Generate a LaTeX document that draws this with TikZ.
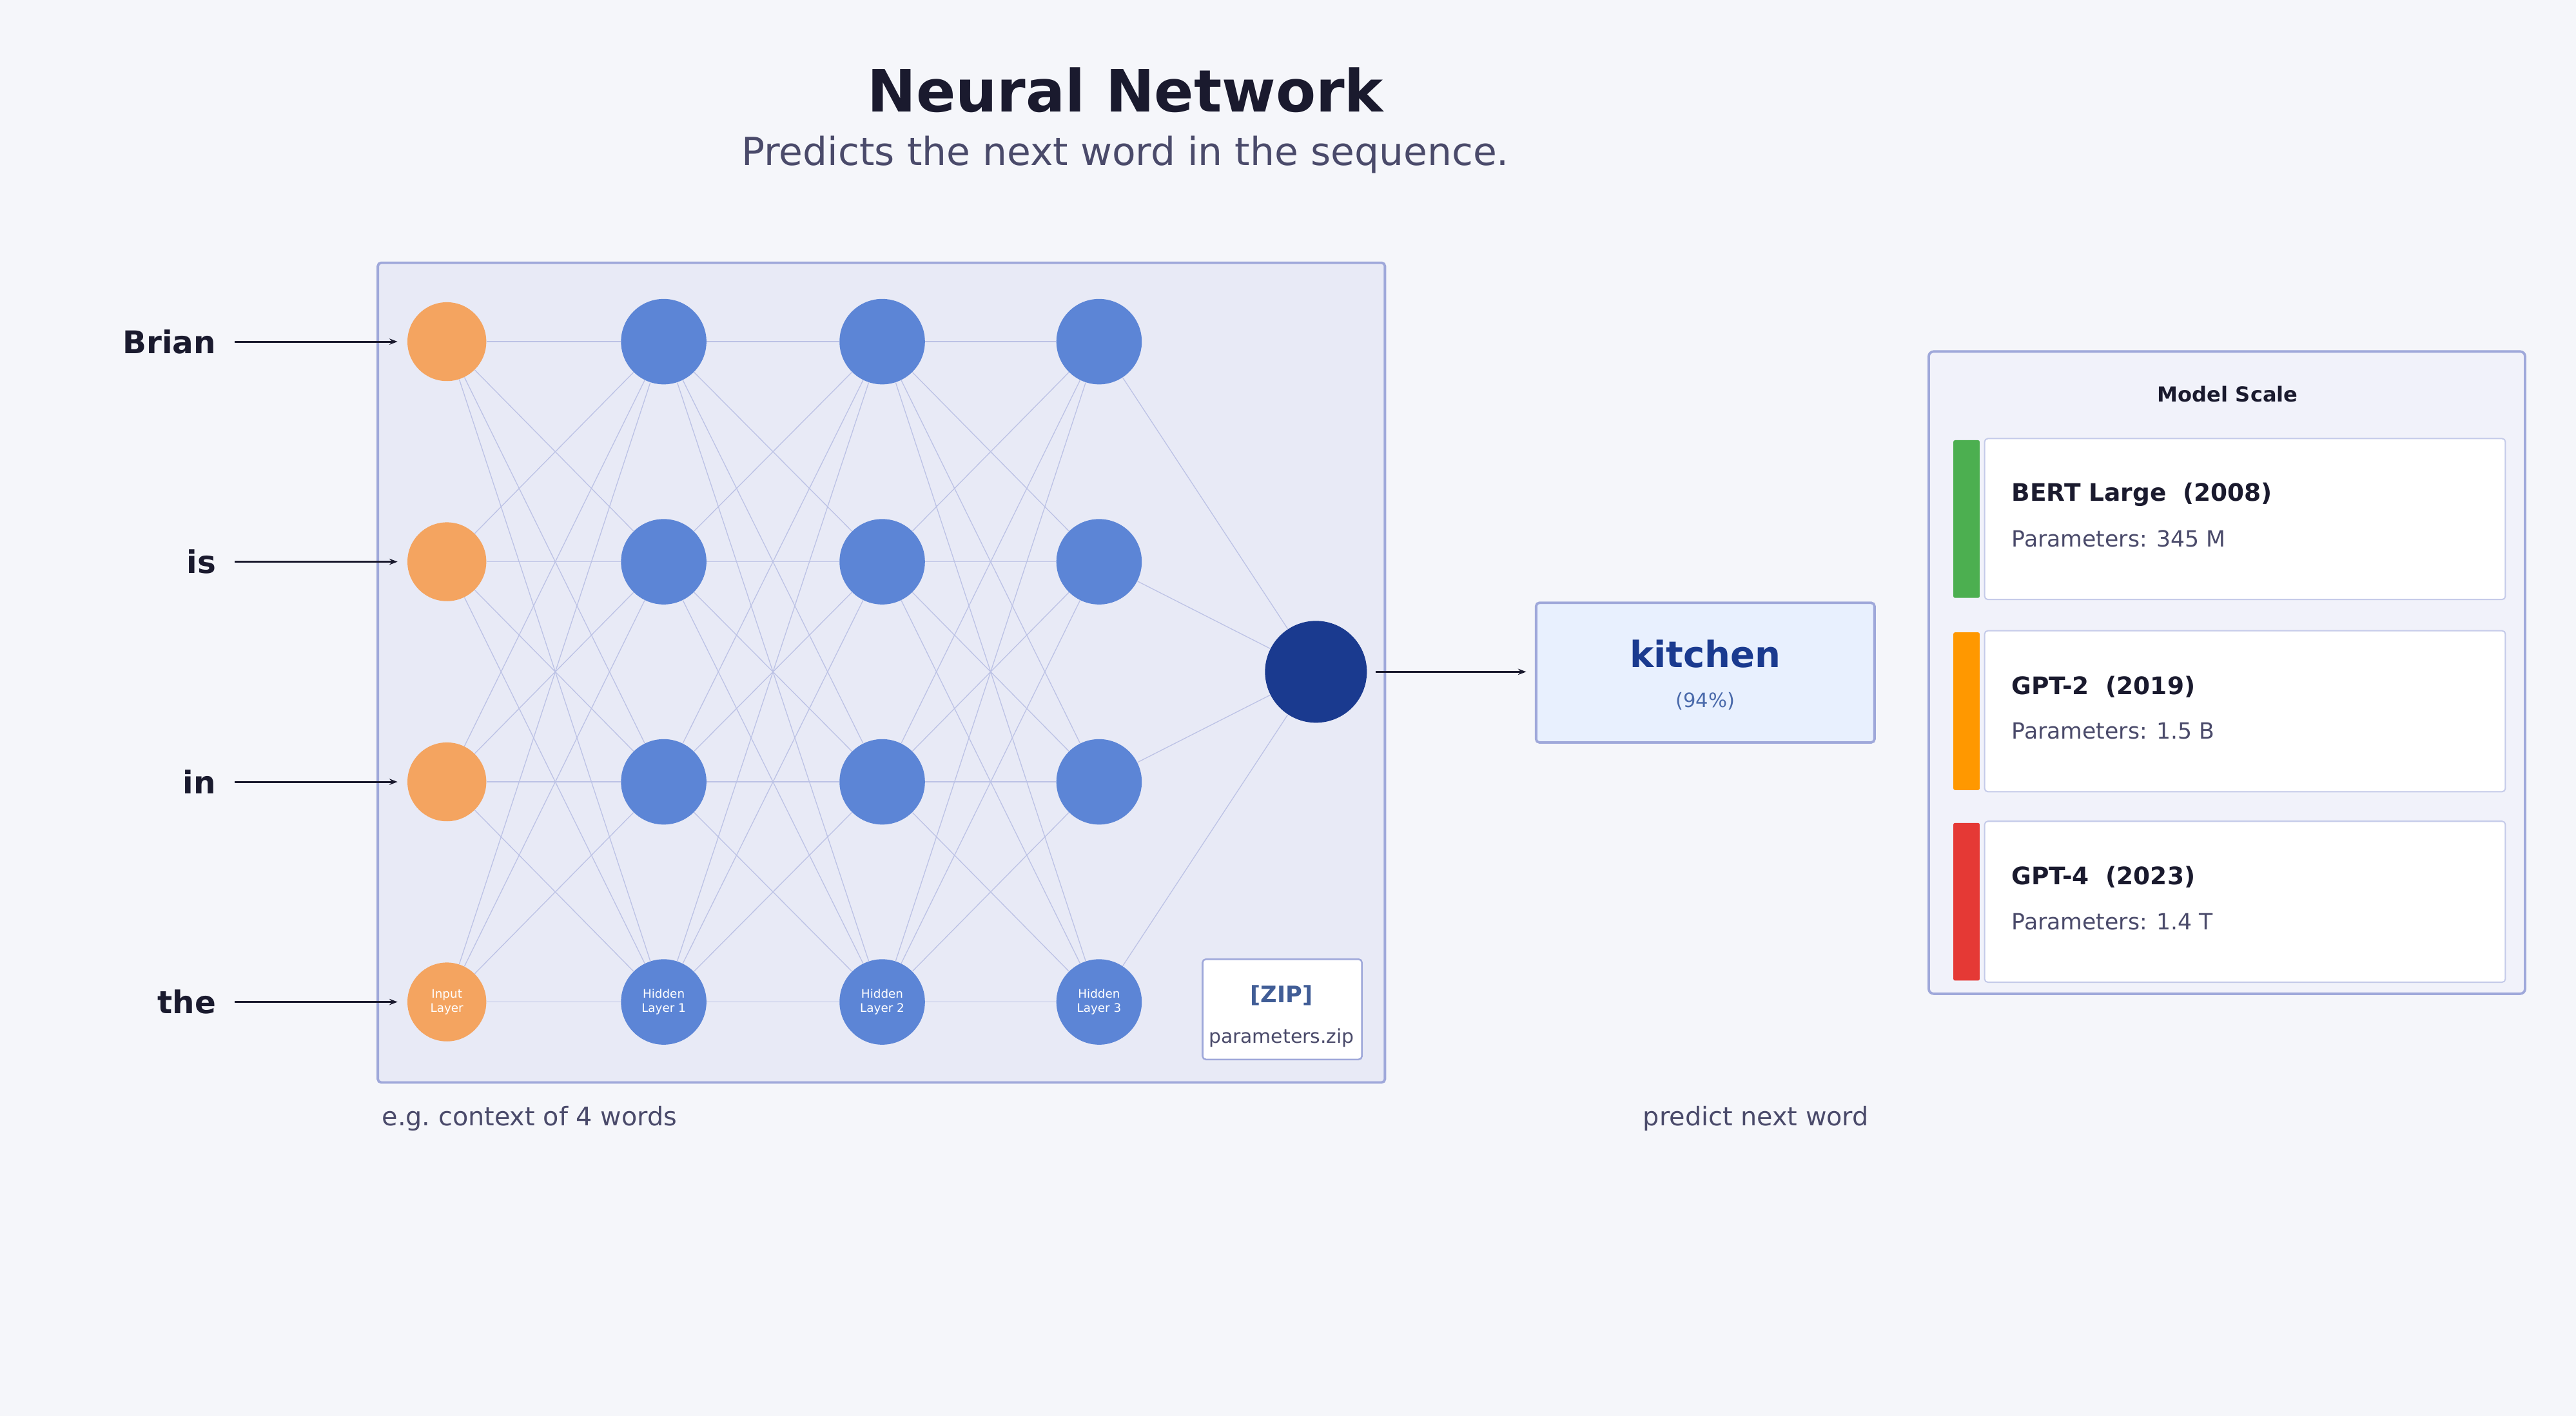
\documentclass[tikz,border=0pt]{standalone}
\usepackage{fontspec}
\setmainfont{DejaVu Sans}
\usetikzlibrary{arrows.meta}
\definecolor{bgc}{HTML}{F5F6FA}
\definecolor{panel}{HTML}{E8EAF6}
\definecolor{edgec}{HTML}{9FA8DA}
\definecolor{inc}{HTML}{F4A460}
\definecolor{hidc}{HTML}{5C85D6}
\definecolor{outc}{HTML}{1A3A8F}
\definecolor{ink}{HTML}{1A1A2E}
\definecolor{grayt}{HTML}{4A4A6A}
\definecolor{predc}{HTML}{E8F0FE}
\tikzset{
  neuron/.style={circle, draw=none, inner sep=0pt, text=white, align=center, font=\fontsize{7.2}{8.5}\selectfont},
  inneuron/.style={neuron, fill=inc, minimum size=48pt},
  hidneuron/.style={neuron, fill=hidc, minimum size=52pt},
  link/.style={draw=edgec!70, line width=0.5pt},
  feed/.style={-{Stealth[length=5pt]}, line width=1.2pt, draw=ink},
  word/.style={anchor=east, font=\bfseries\fontsize{19}{22}\selectfont, text=ink},
  card/.style={draw=edgec!60, fill=white, rounded corners=2pt, line width=0.8pt}
}
\begin{document}
\begin{tikzpicture}[x=1pt, y=-1pt]
    \fill[bgc] (0,0) rectangle (1568,862);
    \useasboundingbox (0,0) rectangle (1568,862);

    % title
    \node[font=\bfseries\fontsize{35.5}{40}\selectfont, text=ink] (title) at (685,55) {Neural Network};
    \node[font=\fontsize{23.5}{27}\selectfont, text=grayt] (subtitle) at (685,94) {Predicts the next word in the sequence.};

    % network panel
    \draw[fill=panel, draw=edgec, line width=1.5pt, rounded corners=2pt] (230,160) rectangle (843,659);

    % neurons
    \foreach \i/\y in {1/208, 2/342, 3/476, 4/610} {
        \node[inneuron] (in\i) at (272,\y) {};
        \foreach \l/\x in {1/404, 2/537, 3/669}
            \node[hidneuron] (h\l\i) at (\x,\y) {};
    }
    \node[neuron, fill=outc, minimum size=62pt] (out) at (801,409) {};

    % connections
    \foreach \a in {1,...,4} {
        \foreach \b in {1,...,4} {
            \draw[link] (in\a) -- (h1\b);
            \draw[link] (h1\a) -- (h2\b);
            \draw[link] (h2\a) -- (h3\b);
        }
        \draw[link] (h3\a) -- (out);
    }

    % layer labels
    \node[neuron] at (in4) {Input\\Layer};
    \node[neuron] at (h14) {Hidden\\Layer 1};
    \node[neuron] at (h24) {Hidden\\Layer 2};
    \node[neuron] at (h34) {Hidden\\Layer 3};

    % input words
    \foreach \i/\w in {1/Brian, 2/is, 3/in, 4/the} {
        \node[word] (w\i) at (135,208+134*\i-134) {\w};
        \coordinate (t\i) at (242,208+134*\i-134);
        \draw[feed] (143,208+134*\i-134) -- (t\i);
    }

    % prediction
    \node[draw=edgec, fill=predc, rounded corners=2pt, line width=1.5pt,
          minimum width=206pt, minimum height=85pt] (pred) at (1038,409.5) {};
    \node[font=\bfseries\fontsize{22}{26}\selectfont, text=outc] (kitchen) at (1038,398) {kitchen};
    \node[font=\fontsize{12}{14}\selectfont, text=hidc!80!black] (prob) at (1038,427) {(94\%)};
    \coordinate (predin) at (929,409);
    \draw[feed] ([xshift=5pt]out.east) -- (predin);

    % zip
    \node[draw=edgec, fill=white, rounded corners=2pt, line width=1pt,
          minimum width=97pt, minimum height=61pt] (zip) at (780.5,614.5) {};
    \node[font=\bfseries\fontsize{13.8}{16}\selectfont, text=hidc!70!black] (ziptag) at (780,606) {[ZIP]};
    \node[font=\fontsize{11.7}{14}\selectfont, text=grayt] (zipname) at (780,632) {parameters.zip};

    % captions
    \node[anchor=west, font=\fontsize{15.6}{18}\selectfont, text=grayt] (ctx) at (229,681) {e.g.\ context of 4 words};
    \node[anchor=east, font=\fontsize{15.6}{18}\selectfont, text=grayt] (nxt) at (1141,681) {predict next word};

    % model scale
    \draw[fill=panel!60!white, draw=edgec, line width=1.5pt, rounded corners=3pt] (1174,214) rectangle (1537,605);
    \node[font=\bfseries\fontsize{12.6}{15}\selectfont, text=ink] (scale) at (1356,240) {Model Scale};
    \foreach \y/\c/\n/\p in {267/4CAF50/BERT Large\ \ (2008)/345 M,
                             384/FF9800/GPT-2\ \ (2019)/1.5 B,
                             500/E53935/GPT-4\ \ (2023)/1.4 T} {
        \definecolor{barc}{HTML}{\c}
        \fill[barc, rounded corners=1pt] (1189,\y+1) rectangle (1205,\y+97);
        \draw[card] (1208,\y) rectangle (1525,\y+98);
        \node[anchor=west, font=\bfseries\fontsize{14.7}{17}\selectfont, text=ink] at (1221,\y+34) {\n};
        \node[anchor=west, font=\fontsize{13.6}{16}\selectfont, text=grayt] at (1221,\y+61) {Parameters: \p};
    }
\end{tikzpicture}
\end{document}
